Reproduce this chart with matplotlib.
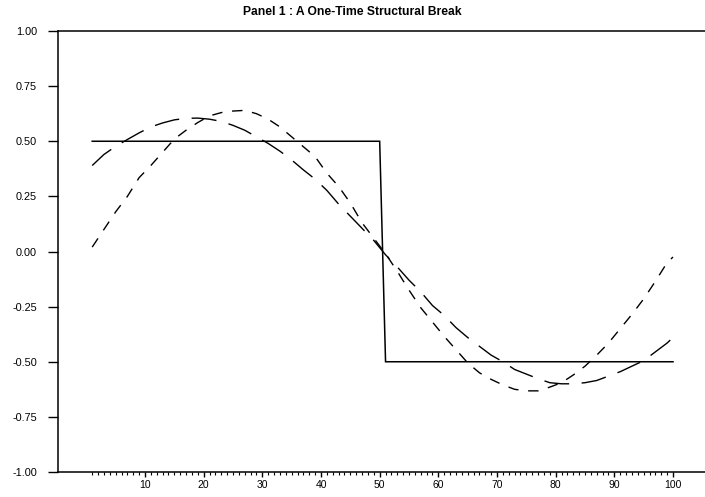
import numpy as np
import matplotlib
matplotlib.use("Agg")
import matplotlib.pyplot as plt
from matplotlib.ticker import FixedLocator, FixedFormatter

plt.rcParams['font.family'] = ['Liberation Sans', 'DejaVu Sans']

# Step series (one-time structural break)
step_x = list(range(1, 101))
step_y = [0.5] * 50 + [-0.5] * 50

# Short-dashed curve
short_x = [1, 3, 5, 7, 9, 11, 13, 15, 17, 19, 21, 23, 25, 27, 29, 31, 33, 35, 37, 39,
           41, 43, 45, 47, 49, 51, 53, 55, 57, 59, 61, 63, 65, 67, 69, 71, 73, 75, 77,
           79, 81, 83, 85, 87, 89, 91, 93, 95, 97, 99, 100]
short_y = [0.02, 0.10, 0.18, 0.25, 0.335, 0.39, 0.45, 0.51, 0.55, 0.585, 0.615, 0.63,
           0.637, 0.64, 0.625, 0.60, 0.565, 0.52, 0.475, 0.43, 0.355, 0.295, 0.22, 0.13,
           0.06, -0.01, -0.09, -0.175, -0.255, -0.32, -0.385, -0.445, -0.505, -0.55,
           -0.58, -0.605, -0.625, -0.632, -0.632, -0.615, -0.595, -0.56, -0.52, -0.47,
           -0.415, -0.35, -0.285, -0.215, -0.135, -0.05, -0.025]

# Long-dashed curve
long_x = short_x
long_y = [0.39, 0.44, 0.477, 0.508, 0.538, 0.565, 0.583, 0.597, 0.604, 0.605, 0.60,
          0.59, 0.572, 0.55, 0.52, 0.49, 0.455, 0.415, 0.37, 0.328, 0.277, 0.215, 0.16,
          0.105, 0.05, -0.015, -0.07, -0.13, -0.183, -0.245, -0.29, -0.345, -0.39,
          -0.43, -0.47, -0.50, -0.535, -0.556, -0.577, -0.595, -0.60, -0.60, -0.595,
          -0.585, -0.565, -0.545, -0.52, -0.495, -0.455, -0.415, -0.39]

ytick_vals = [-1.0, -0.75, -0.5, -0.25, 0.0, 0.25, 0.5, 0.75, 1.0]
ytick_labels = ["-1.00", "-0.75", "-0.50", "-0.25", "0.00", "0.25", "0.50", "0.75", "1.00"]
xtick_vals = [10, 20, 30, 40, 50, 60, 70, 80, 90, 100]
xtick_labels = [str(v) for v in xtick_vals]
xminor_vals = [v for v in range(1, 101) if v % 10 != 0]

title = "Panel 1 : A One-Time Structural Break"

fig = plt.figure(figsize=(7.05, 4.97), dpi=100)
ax = fig.add_axes([58 / 705, (497 - 472) / 497, (705 - 58) / 705, (472 - 31) / 497])

ax.plot(step_x, step_y, color='black', lw=1.1, solid_joinstyle='miter')
ax.plot(short_x, short_y, color='black', lw=1.0, dashes=(7.5, 7))
ax.plot(long_x, long_y, color='black', lw=1.0, dashes=(18, 9))

ax.set_xlim(-4.83, 105.45)
ax.set_ylim(-1.0, 1.0)

for s in ['left', 'top', 'bottom']:
    ax.spines[s].set_linewidth(1.1)
ax.spines['right'].set_visible(False)

ax.yaxis.set_major_locator(FixedLocator(ytick_vals))
ax.yaxis.set_major_formatter(FixedFormatter(ytick_labels))
ax.xaxis.set_major_locator(FixedLocator(xtick_vals))
ax.xaxis.set_major_formatter(FixedFormatter(xtick_labels))
ax.xaxis.set_minor_locator(FixedLocator(xminor_vals))

ax.tick_params(axis='y', which='major', direction='out', length=7.2, width=1.0,
               pad=8.0, labelsize=7.8)
ax.tick_params(axis='x', which='major', direction='out', length=3.8, width=1.0,
               pad=1.8, labelsize=7.5)
ax.tick_params(axis='x', which='minor', direction='out', length=2.2, width=0.8)
ax.tick_params(top=False, right=False)

fig.text(0.5, 1 - 12 / 497, title, ha='center', va='center', fontsize=8.7,
         fontweight='bold')

fig.savefig("out.png", dpi=100)
